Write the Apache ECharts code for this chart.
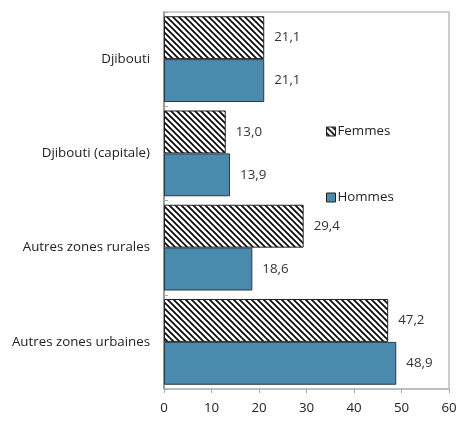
<!DOCTYPE html>
<html><head><meta charset="utf-8">
<script src="https://cdn.jsdelivr.net/npm/echarts@6/dist/echarts.min.js"></script>
<style>html,body{margin:0;padding:0;background:#fff}#c{width:461px;height:421px}</style>
</head><body><div id="c"></div>
<script>
const categories = ["Djibouti", "Djibouti (capitale)", "Autres zones rurales", "Autres zones urbaines"];
const femmes = [21.1, 13.0, 29.4, 47.2];
const hommes = [21.1, 13.9, 18.6, 48.9];
const xTicks = [0, 10, 20, 30, 40, 50, 60];

function hatch() {
  const c = document.createElement('canvas');
  c.width = 6; c.height = 6;
  const g = c.getContext('2d');
  g.fillStyle = '#fff'; g.fillRect(0, 0, 6, 6);
  g.strokeStyle = '#000'; g.lineWidth = 1.6;
  g.beginPath();
  g.moveTo(-1, -1); g.lineTo(7, 7);
  g.moveTo(-4, 2); g.lineTo(4, 10);
  g.moveTo(2, -4); g.lineTo(10, 4);
  g.stroke();
  return c;
}
const font = '"Open Sans", "Noto Sans", sans-serif';
const fs = 13.3;
const fmt = p => p.value.toFixed(1).replace('.', ',');
const chart = echarts.init(document.getElementById('c'), null, {renderer: 'canvas'});
chart.setOption({
  animation: false,
  grid: {left: 164, right: 12, top: 12, bottom: 32, show: true, borderColor: '#c0c0c0', borderWidth: 1.5},
  legend: {
    orient: 'vertical', left: 321, top: 120, itemGap: 53, itemWidth: 9, itemHeight: 9, icon: 'rect',
    textStyle: {fontFamily: font, fontSize: fs, color: '#222', padding: [0, 0, 0, -3]},
    itemStyle: {borderColor: '#222', borderWidth: 1},
    data: ['Femmes', 'Hommes']
  },
  xAxis: {
    type: 'value', min: xTicks[0], max: xTicks[xTicks.length - 1], interval: 10,
    splitLine: {show: false},
    axisLine: {show: true, lineStyle: {color: '#bbb', width: 1.5}},
    axisTick: {show: true, length: 4, lineStyle: {color: '#aaa'}},
    axisLabel: {fontFamily: font, fontSize: fs, color: '#222', margin: 13}
  },
  yAxis: {
    type: 'category', data: categories, inverse: true,
    axisLine: {show: true, lineStyle: {color: '#888', width: 1.5}},
    axisTick: {show: true, inside: true, length: 4, lineStyle: {color: '#aaa'}},
    axisLabel: {fontFamily: font, fontSize: fs, color: '#222', margin: 14}
  },
  series: [
    {
      name: 'Femmes', type: 'bar', data: femmes, barGap: '0%', barCategoryGap: '9%',
      itemStyle: {color: {image: hatch(), repeat: 'repeat'}, borderColor: '#222', borderWidth: 1},
      label: {show: true, position: 'right', distance: 10, formatter: fmt, fontFamily: font, fontSize: fs, color: '#333'}
    },
    {
      name: 'Hommes', type: 'bar', data: hommes, barGap: '0%', barCategoryGap: '9%',
      itemStyle: {color: '#4a8bad', borderColor: '#2a3a44', borderWidth: 1},
      label: {show: true, position: 'right', distance: 10, formatter: fmt, fontFamily: font, fontSize: fs, color: '#333'}
    }
  ]
});
</script></body></html>
